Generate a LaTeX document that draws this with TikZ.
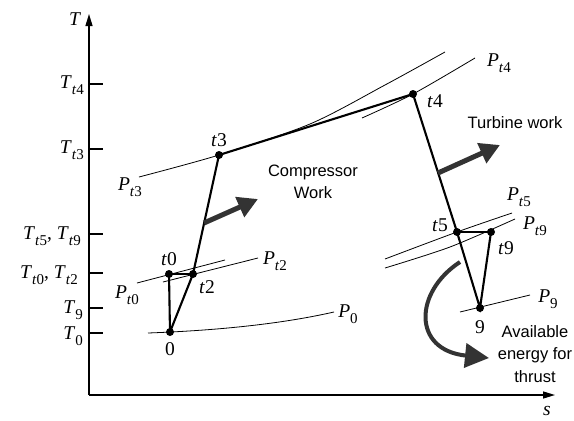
\documentclass[tikz,border=0pt]{standalone}
\usepackage{fontspec}
\setmainfont{Liberation Serif}
\newfontfamily\sansf{Liberation Sans}
\usetikzlibrary{arrows.meta}
\newcommand\subT[2]{\textit{#1}\raisebox{-0.28em}{\fontsize{15}{15}\selectfont\textit{t}#2}}
\newcommand\subN[2]{\textit{#1}\raisebox{-0.28em}{\fontsize{15}{15}\selectfont #2}}
\newcommand\ptl[1]{\textit{t}#1}
\definecolor{arrgray}{HTML}{333333}
\begin{document}
\begin{tikzpicture}[x=1pt,y=-1pt,
  axis/.style={line width=1.3pt},
  proc/.style={line width=2.1pt},
  pres/.style={line width=0.8pt},
  dot/.style={circle,fill=black,inner sep=0pt,minimum size=8pt},
  bigarrow/.style={line width=5pt,arrgray,-{Triangle[length=20pt,width=21pt]}},
  lab/.style={font=\fontsize{19.5}{19.5}\selectfont,inner sep=1pt},
  tlab/.style={font=\fontsize{19.5}{19.5}\selectfont,anchor=east,inner sep=1pt},
  sans/.style={font=\sansf\fontsize{16.5}{22.5}\selectfont,align=center,inner sep=0pt}]
\useasboundingbox (0,0) rectangle (574,421);
% axes
\coordinate (O) at (89,395);
\coordinate (Ytop) at (89,14);
\coordinate (Xend) at (555,395);
\draw[axis,-{Triangle[length=12pt,width=7pt]}] (O) -- (Ytop);
\draw[axis,-{Triangle[length=12pt,width=7pt]}] (O) -- (Xend);
\node[lab] (Tax) at (75,19) {\textit{T}};
\node[lab] (sax) at (547,411) {\textit{s}};
% ticks
\foreach \yy/\nm in {84/a,149/b,234/c,273/d,308/e,333/f}{
  \coordinate (tk\nm) at (89,\yy);
  \coordinate (tke\nm) at (103,\yy);
  \draw[axis] (tk\nm) -- (tke\nm);
}
\node[tlab] (lTt4) at (85,85) {\subT{T}{4}};
\node[tlab] (lTt3) at (85,150) {\subT{T}{3}};
\node[tlab] (lTt59) at (82,236) {\subT{T}{5}, \subT{T}{9}};
\node[tlab] (lTt02) at (79,275) {\subT{T}{0}, \subT{T}{2}};
\node[tlab] (lT9) at (84,310) {\subN{T}{9}};
\node[tlab] (lT0) at (84,336) {\subN{T}{0}};
% states
\node[dot] (p0) at (170,332) {};
\node[dot] (pt0) at (169,274) {};
\node[dot] (pt2) at (193,274) {};
\node[dot] (pt3) at (219,155) {};
\node[dot] (pt4) at (413,94) {};
\node[dot] (pt5) at (457,232) {};
\node[dot] (pt9) at (491,232) {};
\node[dot] (p9) at (480,308) {};
% pressure lines
\draw[pres] (148,333) .. controls (230,330) and (290,322) .. (334,312);
\node[lab] (lP0) at (348,314) {\subN{P}{0}};
\draw[pres] (137,283) -- (225,260);
\node[lab] (lPt0) at (127,295) {\subT{P}{0}};
\draw[pres] (163,282) -- (258,258);
\node[lab] (lPt2) at (275,261) {\subT{P}{2}};
\draw[pres] plot[smooth] coordinates {(139,177) (219,155) (310,124) (385,85) (445,52)};
\node[lab] (lPt3) at (130,187) {\subT{P}{3}};
\draw[pres] plot[smooth] coordinates {(362,118) (413,94) (475,58)};
\node[lab] (lPt4) at (499,63) {\subT{P}{4}};
\draw[pres] plot[smooth] coordinates {(385,259) (457,232) (512,213)};
\node[lab] (lPt5) at (519,197) {\subT{P}{5}};
\draw[pres] plot[smooth] coordinates {(385,268) (450,247) (515,219)};
\node[lab] (lPt9) at (535,226) {\subT{P}{9}};
\draw[pres] (460,312) -- (530,295);
\node[lab] (lP9) at (548,299) {\subN{P}{9}};
% process
\draw[proc] (p0.center) -- (pt0.center);
\draw[proc] (p0.center) -- (pt2.center);
\draw[line width=1.2pt] (pt0.center) -- (pt2.center);
\draw[proc] (pt2.center) -- (pt3.center) -- (pt4.center) -- (pt5.center) -- (p9.center) -- (pt9.center);
\draw[line width=1.2pt] (pt5.center) -- (pt9.center);
% point labels
\node[lab] (l0) at (170,349) {0};
\node[lab] (lt0) at (169,259) {\ptl{0}};
\node[lab] (lt2) at (207,287) {\ptl{2}};
\node[lab] (lt3) at (219,140) {\ptl{3}};
\node[lab] (lt4) at (435,101) {\ptl{4}};
\node[lab] (lt5) at (440,225) {\ptl{5}};
\node[lab] (lt9) at (506,248) {\ptl{9}};
\node[lab] (l9) at (480,327) {9};
% texts
\node[sans] (comp) at (313,182) {Compressor\\Work};
\node[sans] (turb) at (515,123) {Turbine work};
\node[sans] (avail) at (535,354) {Available\\energy for\\thrust};
% work arrows
\coordinate (cw0) at (204,223);
\coordinate (cw1) at (258,199);
\draw[bigarrow] (cw0) -- (cw1);
\coordinate (tw0) at (438,173);
\coordinate (tw1) at (500,145);
\draw[bigarrow] (tw0) -- (tw1);
\coordinate (ca0) at (460,262);
\coordinate (ca1) at (489,358);
\draw[line width=4pt,arrgray,-{Triangle[length=24pt,width=24pt]}] (ca0) .. controls (414,292) and (412,350) .. (ca1);
\end{tikzpicture}
\end{document}
